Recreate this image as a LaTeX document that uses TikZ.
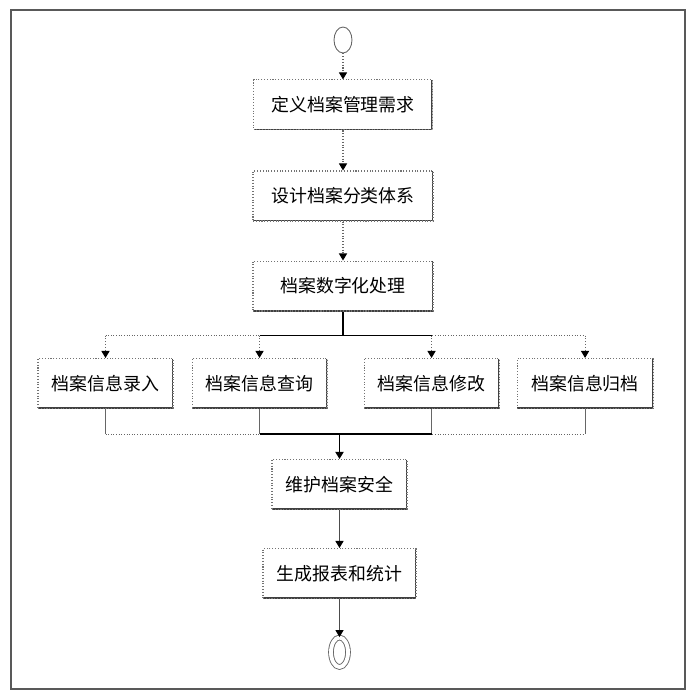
\documentclass[tikz,border=0pt]{standalone}
\usepackage{fontspec}
\setmainfont{Noto Sans CJK SC}
\usetikzlibrary{arrows.meta,positioning,shapes.geometric}

\begin{document}
\begin{tikzpicture}[
  x=0.02cm, y=-0.02cm,
  >={Triangle[length=4pt,width=4.6pt,color=black]},
  box/.style={draw=black!55, densely dotted, line width=0.6pt, minimum height=1cm,
    inner sep=2pt, font=\fontsize{10.2pt}{12pt}\selectfont,
    path picture={\draw[solid, black!75, line width=1.2pt]
      (path picture bounding box.north east) -- (path picture bounding box.south east)
      -- (path picture bounding box.south west);}},
  term/.style={draw=black!60, ellipse, inner sep=0pt, line width=0.5pt},
  flow/.style={->, draw=black!60, densely dotted, line width=0.6pt},
  link/.style={->, draw=black!70, line width=0.6pt},
  main/.style={draw=black, line width=0.9pt},
  thin/.style={draw=black!60, line width=0.5pt},
  node distance=0.78cm
]
  \useasboundingbox (0,0) rectangle (694,700);
  \draw[black!65, line width=0.9pt] (11,10) rectangle (685,689);

  \node[term, minimum width=0.36cm, minimum height=0.52cm] (start) at (343,40) {};
  \node[box, minimum width=3.58cm, below=0.52cm of start] (define) {定义档案管理需求};
  \node[box, minimum width=3.6cm, below=0.8cm of define] (design) {设计档案分类体系};
  \node[box, minimum width=3.6cm, below=0.78cm of design] (digit) {档案数字化处理};

  \node[box, minimum width=2.7cm] (entry) at (105.5,383.5) {档案信息录入};
  \node[box, minimum width=2.7cm, right=0.36cm of entry] (query) {档案信息查询};
  \node[box, minimum width=2.7cm, right=0.72cm of query] (modify) {档案信息修改};
  \node[box, minimum width=2.72cm, right=0.34cm of modify] (archive) {档案信息归档};

  \node[box, minimum width=2.7cm] (secure) at (339.5,484.5) {维护档案安全};
  \node[box, minimum width=3.06cm, below=0.76cm of secure] (report) {生成报表和统计};
  \node[term, double, double distance=2.2pt, minimum width=0.34cm, minimum height=0.59cm,
    below=0.76cm of report] (finish) {};

  \path (digit.south) ++(0,24) coordinate (split);
  \path (secure.north) ++(0,-25) coordinate (merge);

  \draw[flow] (start) -- (define);
  \draw[flow] (define) -- (design);
  \draw[flow] (design) -- (digit);
  \draw[main] (digit) -- (split);

  \draw[thin, densely dotted] (entry.north |- split) -- (archive.north |- split);
  \draw[main] (query.north |- split) -- (modify.north |- split);
  \foreach \n in {entry, query, modify, archive}
    \draw[flow] (\n.north |- split) -- (\n);

  \foreach \n in {entry, query, modify, archive}
    \draw[thin] (\n) -- (\n.south |- merge);
  \draw[thin, densely dotted] (entry.south |- merge) -- (archive.south |- merge);
  \draw[main] (query.south |- merge) -- (modify.south |- merge);

  \draw[->, main] (merge) -- (secure);
  \draw[link] (secure) -- (report);
  \draw[link] (report) -- (finish);
\end{tikzpicture}
\end{document}
